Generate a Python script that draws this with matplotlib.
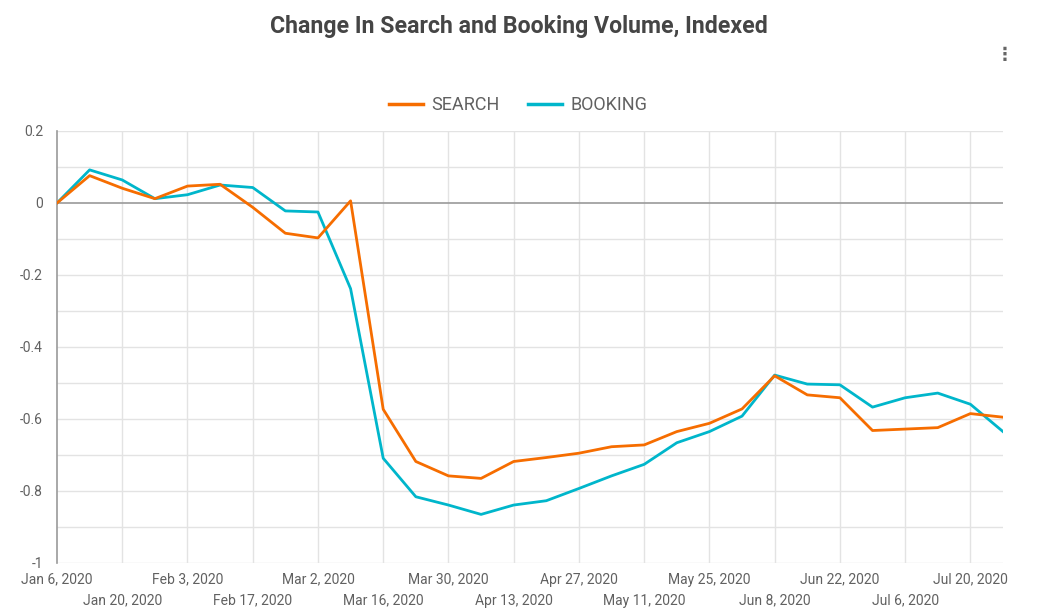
import matplotlib
matplotlib.use("Agg")
import matplotlib.pyplot as plt
import pandas as pd

# ---- data ----
weeks = pd.date_range("2020-01-06", periods=30, freq="7D")
search = [0.0, 0.076, 0.041, 0.012, 0.047, 0.052, -0.012, -0.084, -0.097, 0.006,
          -0.573, -0.718, -0.758, -0.765, -0.718, -0.707, -0.695, -0.677, -0.672, -0.635,
          -0.612, -0.572, -0.480, -0.533, -0.541, -0.632, -0.628, -0.624, -0.585, -0.595]
booking = [0.0, 0.092, 0.064, 0.012, 0.023, 0.050, 0.043, -0.022, -0.025, -0.238,
           -0.709, -0.816, -0.839, -0.865, -0.839, -0.827, -0.793, -0.758, -0.726, -0.666,
           -0.635, -0.592, -0.478, -0.503, -0.505, -0.567, -0.541, -0.528, -0.559, -0.635]
tick_dates = pd.to_datetime(["2020-01-06", "2020-01-20", "2020-02-03", "2020-02-17", "2020-03-02",
                             "2020-03-16", "2020-03-30", "2020-04-13", "2020-04-27", "2020-05-11",
                             "2020-05-25", "2020-06-08", "2020-06-22", "2020-07-06", "2020-07-20"])
tick_labels = ["Jan 6, 2020", "Jan 20, 2020", "Feb 3, 2020", "Feb 17, 2020", "Mar 2, 2020",
               "Mar 16, 2020", "Mar 30, 2020", "Apr 13, 2020", "Apr 27, 2020", "May 11, 2020",
               "May 25, 2020", "Jun 8, 2020", "Jun 22, 2020", "Jul 6, 2020", "Jul 20, 2020"]
y_ticks = [0.2, 0, -0.2, -0.4, -0.6, -0.8, -1]
y_labels = ["0.2", "0", "-0.2", "-0.4", "-0.6", "-0.8", "-1"]

plt.rcParams["font.family"] = ["Roboto", "DejaVu Sans"]

fig = plt.figure(figsize=(10.37, 6.15), dpi=100)
ax = fig.add_axes([57/1037, 52/615, 946/1037, 432/615])

orange = "#F66D00"
teal = "#00B6CB"

# grid
for v in [0.2, 0.1, -0.1, -0.2, -0.3, -0.4, -0.5, -0.6, -0.7, -0.8, -0.9, -1.0]:
    ax.axhline(v, color="#e3e3e3", lw=1.0, zorder=0)
for d in tick_dates[1:]:
    ax.axvline(d, color="#e3e3e3", lw=1.0, zorder=0)
ax.axhline(0, color="#9a9a9a", lw=1.2, zorder=1)

ax.plot(weeks, search, color=orange, lw=2.0, label="SEARCH", zorder=3, solid_joinstyle="round")
ax.plot(weeks, booking, color=teal, lw=2.0, label="BOOKING", zorder=2, solid_joinstyle="round")

ax.set_xlim(weeks[0], weeks[-1])
ax.set_ylim(-1, 0.2)

for s in ["top", "right", "bottom"]:
    ax.spines[s].set_visible(False)
ax.spines["left"].set_color("#9a9a9a")
ax.spines["left"].set_linewidth(1.2)

ax.set_yticks(y_ticks)
ax.set_yticklabels(y_labels)
# staggered date labels: even ones as major ticks, odd ones as minor ticks lower down
ax.set_xticks(tick_dates[0::2])
ax.set_xticklabels(tick_labels[0::2])
ax.set_xticks(tick_dates[1::2], minor=True)
ax.set_xticklabels(tick_labels[1::2], minor=True)
ax.tick_params(axis="both", which="both", length=0, labelsize=10, colors="#616161")
ax.tick_params(axis="y", pad=10)
ax.tick_params(axis="x", which="major", pad=7)
ax.tick_params(axis="x", which="minor", pad=22)

fig.text(0.5, 1 - 27/615, "Change In Search and Booking Volume, Indexed", ha="center", va="center",
         fontsize=16.7, fontweight="bold", color="#454545")

leg = ax.legend(loc="center", bbox_to_anchor=(518/1037, 1 - 105/615), bbox_transform=fig.transFigure,
                ncol=2, frameon=False, fontsize=13, handlelength=1.9, handletextpad=0.45,
                columnspacing=1.6, labelcolor="#616161")
for line in leg.get_lines():
    line.set_linewidth(2.5)

fig.text(1005/1037, 1 - 55/615, "⋮", ha="center", va="center", fontsize=13, color="#666666",
         family="DejaVu Sans", fontweight="bold")

fig.savefig("out.png", dpi=100, facecolor="white")
